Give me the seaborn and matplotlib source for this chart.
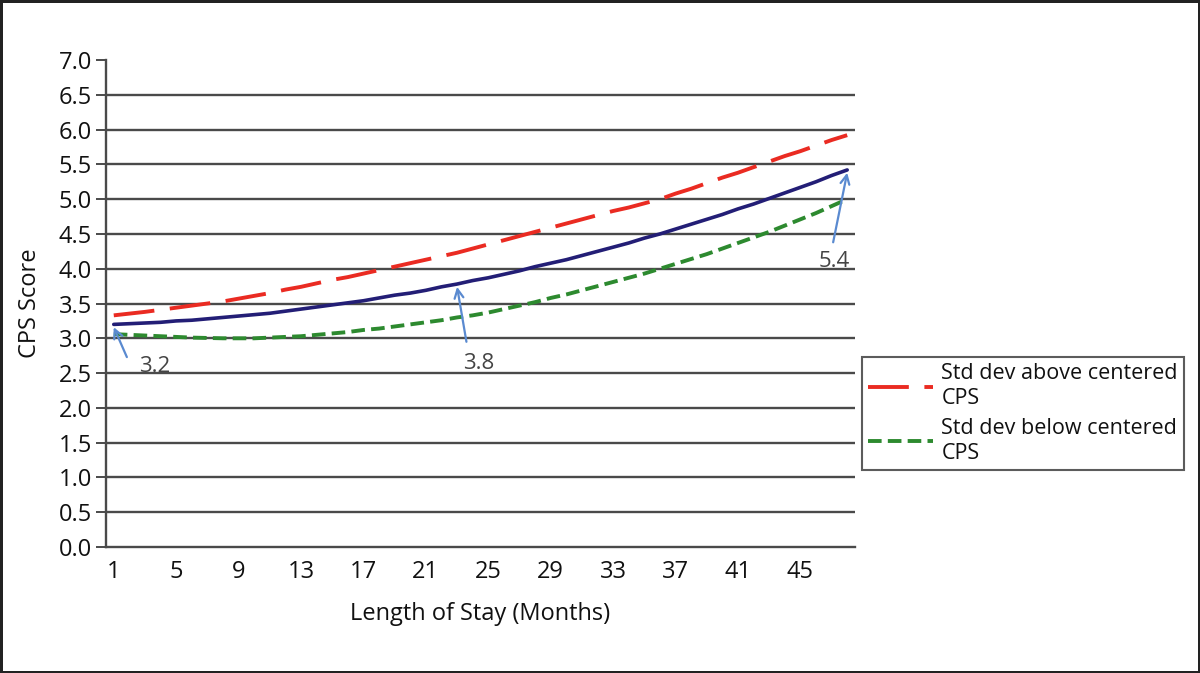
import numpy as np
import pandas as pd
import matplotlib
matplotlib.use("Agg")
import matplotlib.pyplot as plt
from matplotlib.lines import Line2D
import seaborn as sns

# ---------------- data ----------------
months = list(range(1, 49))

cps_centered = [3.20, 3.21, 3.22, 3.23, 3.25, 3.26, 3.28, 3.30, 3.32, 3.34,
                3.36, 3.39, 3.42, 3.45, 3.48, 3.51, 3.54, 3.58, 3.62, 3.65,
                3.69, 3.74, 3.78, 3.83, 3.87, 3.92, 3.97, 4.03, 4.08, 4.13,
                4.19, 4.25, 4.31, 4.37, 4.44, 4.50, 4.57, 4.64, 4.71, 4.78,
                4.86, 4.93, 5.01, 5.09, 5.17, 5.25, 5.34, 5.42]

sd_above = [3.33, 3.355, 3.38, 3.41, 3.44, 3.47, 3.50, 3.53, 3.57, 3.61,
            3.65, 3.70, 3.74, 3.79, 3.84, 3.88, 3.93, 3.98, 4.03, 4.08,
            4.13, 4.18, 4.23, 4.29, 4.35, 4.41, 4.47, 4.53, 4.59, 4.65,
            4.71, 4.77, 4.83, 4.88, 4.94, 5.00, 5.08, 5.15, 5.23, 5.31,
            5.38, 5.46, 5.54, 5.62, 5.69, 5.77, 5.85, 5.92]

sd_below = [3.06, 3.05, 3.04, 3.03, 3.02, 3.01, 3.005, 3.00, 3.00, 3.00,
            3.01, 3.02, 3.03, 3.05, 3.07, 3.09, 3.12, 3.14, 3.17, 3.20,
            3.23, 3.26, 3.30, 3.33, 3.37, 3.42, 3.47, 3.52, 3.58, 3.63,
            3.69, 3.75, 3.81, 3.87, 3.93, 4.00, 4.07, 4.14, 4.21, 4.29,
            4.37, 4.45, 4.53, 4.62, 4.71, 4.80, 4.90, 5.00]

x_tick_labels = [1, 5, 9, 13, 17, 21, 25, 29, 33, 37, 41, 45]
y_ticks = [0.0, 0.5, 1.0, 1.5, 2.0, 2.5, 3.0, 3.5, 4.0, 4.5, 5.0, 5.5, 6.0, 6.5, 7.0]

legend_labels = ["Std dev above centered\nCPS", "Std dev below centered\nCPS"]

# annotations: (label, point month, point value)
callouts = [("3.2", 1, 3.2), ("3.8", 23, 3.78), ("5.4", 48, 5.42)]

# ---------------- styling ----------------
sns.set_style("white")
plt.rcParams['font.family'] = ['Open Sans', 'DejaVu Sans']

RED = "#ea2b22"
NAVY = "#231e76"
GREEN = "#2d8a2f"
GRID = "#4a4a4a"
TXT = "#111111"
ARROW = "#5a8ad0"

df = pd.DataFrame({"month": months, "center": cps_centered,
                   "above": sd_above, "below": sd_below})

fig = plt.figure(figsize=(12, 6.73), dpi=100, linewidth=2.5, edgecolor="#222222")
ax = fig.add_axes([0.0883, 0.1872, 0.6242, 0.7236])

for yv in y_ticks[1:-1]:
    ax.axhline(yv, color=GRID, lw=1.7, zorder=1)

sns.lineplot(data=df, x="month", y="above", ax=ax, color=RED, lw=2.8, zorder=3)
ax.lines[-1].set_dashes((10.5, 4))
sns.lineplot(data=df, x="month", y="center", ax=ax, color=NAVY, lw=2.6, zorder=4)
sns.lineplot(data=df, x="month", y="below", ax=ax, color=GREEN, lw=2.8, zorder=3)
ax.lines[-1].set_dashes((3.5, 1.6))

ax.set_xlim(0.5, 48.5)
ax.set_ylim(0, 7.0)

ax.set_xticks(x_tick_labels)
ax.set_xticklabels([str(v) for v in x_tick_labels])
ax.set_xticks(np.arange(0.5, 48.6, 1.0), minor=True)
ax.tick_params(axis="x", which="major", length=0, pad=9, labelsize=17, labelcolor=TXT)
ax.tick_params(axis="x", which="minor", length=6, width=1.4, color=GRID, direction="out")
ax.set_yticks(y_ticks)
ax.set_yticklabels([f"{v:.1f}" for v in y_ticks])
ax.tick_params(axis="y", which="major", length=7, width=1.4, color=GRID,
               direction="out", labelsize=17, labelcolor=TXT, left=True, pad=3)

for s in ["top", "right"]:
    ax.spines[s].set_visible(False)
for s in ["left", "bottom"]:
    ax.spines[s].set_color(GRID)
    ax.spines[s].set_linewidth(1.7)

ax.set_xlabel("Length of Stay (Months)", fontsize=17, color=TXT, labelpad=13)
ax.set_ylabel("CPS Score", fontsize=17, color=TXT, labelpad=12)

# callouts with arrows
arrow_offsets = {"3.2": ((1.84, 2.73), (3.6, 2.59)),
                 "3.8": ((23.6, 2.95), (24.4, 2.64)),
                 "5.4": ((47.1, 4.38), (47.2, 4.10))}
for lab, mx, my in callouts:
    tail, tpos = arrow_offsets[lab]
    ax.annotate("", xy=(mx, my - 0.04), xytext=tail,
                arrowprops=dict(arrowstyle="->", color=ARROW, lw=1.6,
                                mutation_scale=16, shrinkA=0, shrinkB=0),
                zorder=6)
    ax.text(tpos[0], tpos[1], lab, fontsize=16, color="#444444",
            ha="center", va="center", zorder=6)

handles = [Line2D([0], [0], color=RED, lw=2.8, dashes=(10.5, 4)),
           Line2D([0], [0], color=GREEN, lw=2.8, dashes=(3.5, 1.6))]
leg = fig.legend(handles, legend_labels, loc="upper left",
                 bbox_to_anchor=(0.718, 0.470), frameon=True, fancybox=False,
                 fontsize=15.5, handlelength=3.0, handletextpad=0.4,
                 labelspacing=0.4, borderpad=0.3, borderaxespad=0)
leg.get_frame().set_edgecolor("#333333")
leg.get_frame().set_linewidth(1.5)
for t in leg.get_texts():
    t.set_color(TXT)
    t.set_linespacing(1.25)

fig.savefig("out.png", dpi=100)
